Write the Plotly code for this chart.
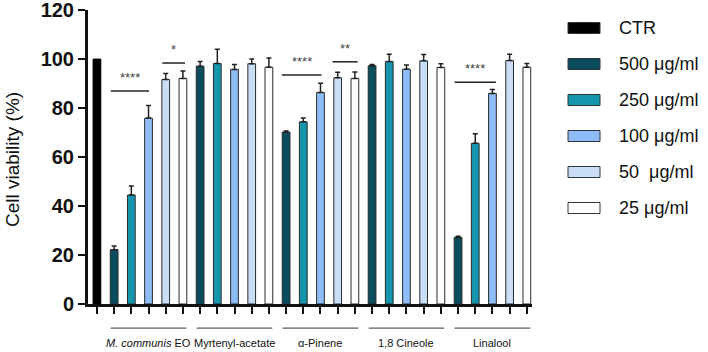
import plotly.graph_objects as go

groups = ["<i>M. communis</i> EO", "Myrtenyl-acetate", "α-Pinene", "1,8 Cineole", "Linalool"]
series_names = ["CTR", "500 μg/ml", "250 μg/ml", "100 μg/ml", "50\u00a0 μg/ml", "25 μg/ml"]
colors = ["#000000", "#0a4d5e", "#1696ad", "#8dbdf6", "#c9ddf6", "#ffffff"]

ctr_value = [100]
v500 = [22.2, 97.1, 70.2, 97.3, 27.2]
e500 = [1.5, 1.9, 0.4, 0.5, 0.5]
v250 = [44.5, 98.2, 74.4, 99.0, 65.6]
e250 = [3.7, 5.8, 1.6, 3.0, 3.9]
v100 = [75.9, 95.8, 86.4, 95.9, 86.0]
e100 = [5.2, 2.0, 3.7, 1.7, 1.6]
v50 = [91.7, 98.1, 92.4, 99.3, 99.4]
e50 = [2.4, 1.9, 2.2, 2.6, 2.6]
v25 = [92.1, 96.7, 92.1, 96.6, 96.7]
e25 = [3.0, 3.8, 2.6, 1.5, 1.5]

values = [v500, v250, v100, v50, v25]
errors = [e500, e250, e100, e50, e25]

y_ticks = [0, 20, 40, 60, 80, 100, 120]

# significance brackets: (x start, x end, y, label)
sig_x0 = [0.8, 3.8, 10.75, 13.7, 20.8]
sig_x1 = [3.03, 5.12, 13.06, 15.16, 23.2]
sig_y = [87, 98.4, 93.5, 98.9, 90.5]
sig_text = ["****", "*", "****", "**", "****"]

FONT = "Liberation Sans, Arial, sans-serif"
bw = 0.45

fig = go.Figure()
fig.add_trace(go.Bar(x=[0], y=ctr_value, width=bw, marker=dict(color=colors[0], line=dict(color="#000", width=1)),
                     showlegend=False))
for c in range(5):
    xs = [1 + 5 * g + c for g in range(5)]
    fig.add_trace(go.Bar(
        x=xs, y=values[c], width=bw,
        marker=dict(color=colors[c + 1], line=dict(color="#2a2a2a", width=1)),
        error_y=dict(type="data", array=errors[c], arrayminus=[0] * 5, symmetric=False,
                     color="#222", thickness=1.5, width=2.5),
        showlegend=False))

shapes = []
annotations = []
for x0, x1, y, t in zip(sig_x0, sig_x1, sig_y, sig_text):
    shapes.append(dict(type="line", xref="x", yref="y", x0=x0, x1=x1, y0=y, y1=y,
                       line=dict(color="#222", width=1.5)))
    annotations.append(dict(x=(x0 + x1) / 2, y=y, xref="x", yref="y", text=t, showarrow=False,
                            yanchor="bottom", yshift=4, font=dict(family=FONT, size=13, color="#444")))
for g, name in enumerate(groups):
    a = 1 + 5 * g
    shapes.append(dict(type="line", xref="x", yref="paper", x0=a - 0.2, x1=a + 4.2, y0=-0.082, y1=-0.082,
                       line=dict(color="#333", width=1)))
    annotations.append(dict(x=a + 2, y=-0.133, xref="x", yref="paper", text=name, showarrow=False,
                            yanchor="middle", font=dict(family=FONT, size=11, color="#111")))

W = 444.0
H = 294.0
for i, (nm, col) in enumerate(zip(series_names, colors)):
    py = 28 + 36 * i
    yc = (304 - py) / H
    shapes.append(dict(type="rect", xref="paper", yref="paper",
                       x0=(568 - 88) / W, x1=(600 - 88) / W, y0=yc - 5.5 / H, y1=yc + 5.5 / H,
                       fillcolor=col, line=dict(color="#333", width=1)))
    annotations.append(dict(x=(617 - 88) / W, y=yc, xref="paper", yref="paper", text=nm, showarrow=False,
                            xanchor="left", yanchor="middle", font=dict(family=FONT, size=18, color="#111")))

annotations.append(dict(x=(12 - 88) / W, y=(304 - 160) / H, xref="paper", yref="paper",
                        text="Cell viability (%)", textangle=-90, showarrow=False,
                        xanchor="center", yanchor="middle",
                        font=dict(family=FONT, size=19, color="#111")))

fig.update_layout(
    width=708, height=352,
    margin=dict(l=88, r=176, t=10, b=48),
    paper_bgcolor="white", plot_bgcolor="white",
    barmode="overlay",
    shapes=shapes, annotations=annotations,
    xaxis=dict(range=[-0.52, 25.3], tickvals=list(range(26)), showticklabels=False,
               ticks="outside", ticklen=7, tickwidth=2, tickcolor="#111", automargin=False,
               showline=True, linewidth=3, linecolor="#111", showgrid=False, zeroline=False),
    yaxis=dict(range=[0, 120.05], tickvals=y_ticks, ticks="outside", ticklen=7, tickwidth=2, tickcolor="#111",
               showline=True, linewidth=3, linecolor="#111", showgrid=False, zeroline=False, automargin=False,
               ticklabeloverflow="allow",
               tickfont=dict(family=FONT, size=20, color="#111", weight="bold")),
)

fig.write_html("out.html", config={"displayModeBar": False},
               post_script="document.body.style.margin='0';document.body.style.overflow='hidden';")
